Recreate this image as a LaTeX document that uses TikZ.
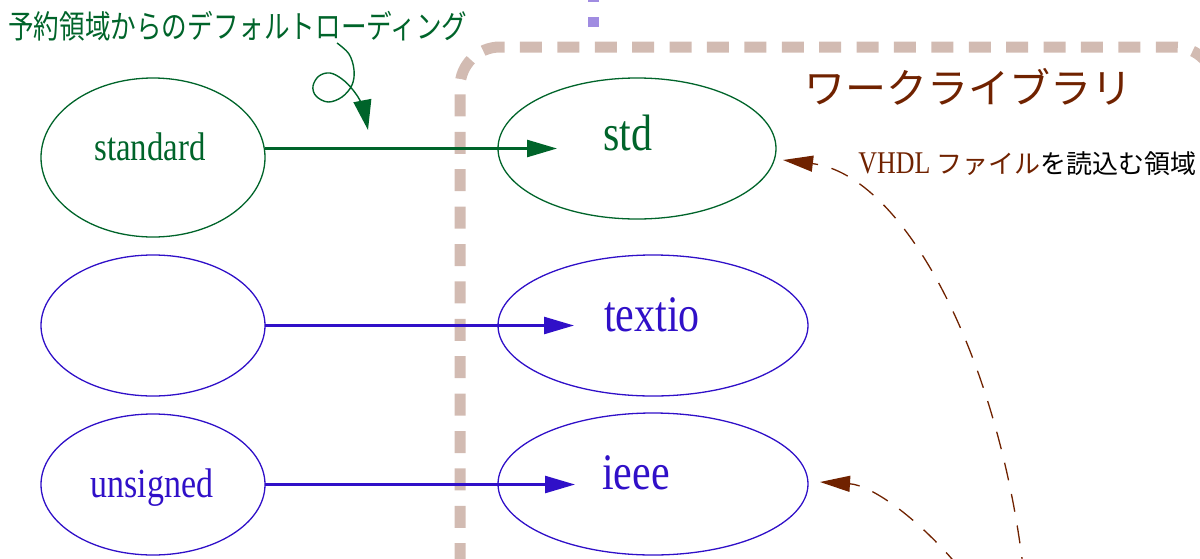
\documentclass[tikz,border=0pt]{standalone}
\usepackage{fontspec}
\setmainfont[FakeStretch=0.82]{Liberation Serif}
\newfontfamily\jp{Noto Sans CJK JP}
\newfontfamily\jpn[FakeStretch=0.8]{Noto Sans CJK JP}
\usetikzlibrary{shapes.geometric,arrows.meta,calc}
\definecolor{dgreen}{RGB}{0,100,42}
\definecolor{dblue}{RGB}{48,16,200}
\definecolor{mybrown}{RGB}{112,34,0}
\definecolor{mytan}{RGB}{210,187,178}
\definecolor{lav}{RGB}{160,140,225}
\begin{document}
\begin{tikzpicture}[x=0.5pt,y=-0.5pt,
  ell/.style={ellipse,draw,line width=0.65pt,inner sep=0pt,outer sep=0pt},
  conn/.style={line width=1.25pt,-{Triangle[length=15pt,width=8.5pt]}},
  lbl/.style={inner sep=0pt,anchor=base},
  dconn/.style={mybrown,line width=0.65pt,dash pattern=on 9pt off 7pt,-{Triangle[length=15pt,width=8pt]}},
  frame/.style={mytan,line width=5.5pt,dash pattern=on 11pt off 7.7pt,rounded corners=20pt}]
\useasboundingbox (0,0) rectangle (1200,558);
\clip (0,0) rectangle (1200,558);
% frame
\draw[frame] (460,640) -- (460,47) -- (1215,47) -- (1215,640);
\draw[lav,line width=5.5pt,dash pattern=on 5pt off 7.5pt] (593.5,27) -- (593.5,-40);
% ellipses
\node[ell,dgreen,minimum width=112pt,minimum height=79.5pt] (e1) at (153,157.5) {};
\node[ell,dblue,minimum width=112pt,minimum height=70.5pt] (e2) at (153,325.5) {};
\node[ell,dblue,minimum width=112pt,minimum height=70.5pt] (e3) at (153,484.5) {};
\node[ell,dgreen,minimum width=139pt,minimum height=70.5pt] (e4) at (637,148.5) {};
\node[ell,dblue,minimum width=155pt,minimum height=70.5pt] (e5) at (653,325.5) {};
\node[ell,dblue,minimum width=155pt,minimum height=71pt] (e6) at (653,484) {};
% labels
\node[lbl,dgreen,font=\fontsize{20}{22}\selectfont] (t1) at (150,160) {standard};
\node[lbl,dblue,font=\fontsize{20.7}{23}\selectfont] (t3) at (152,497) {unsigned};
\node[lbl,dgreen,font=\fontsize{25.6}{28}\selectfont] (t4) at (627.5,150) {std};
\node[lbl,dblue,font=\fontsize{25.6}{28}\selectfont] (t5) at (652,331) {textio};
\node[lbl,dblue,font=\fontsize{25.6}{28}\selectfont] (t6) at (636,489) {ieee};
\node[inner sep=0pt,anchor=base west,dgreen,font=\jpn\fontsize{16}{18}\selectfont] (title) at (8,38) {予約領域からのデフォルトローディング};
\node[inner sep=0pt,anchor=base west,mybrown,font=\jp\fontsize{20.5}{24}\selectfont] (work) at (804,103) {ワークライブラリ};
\node[inner sep=0pt,anchor=base west,font=\fontsize{15.8}{18}\selectfont] (vhdl) at (858,173) {\textcolor{mybrown}{VHDL {\jp\fontsize{13}{16}\selectfont ファイル}}{\jp\fontsize{13}{16}\selectfont を読込む領域}};
% connectors
\draw[conn,dgreen] (e1.east |- e4.west) -- ($(e4.west)+(59,0)$);
\draw[conn,dblue] (e2.east) -- ($(e5.west)+(76,0)$);
\draw[conn,dblue] (e3.east) -- ($(e3.east -| e6.west)+(77,0)$);
\coordinate (s1) at (1024,575);
\coordinate (s2) at (958,566);
\coordinate (p1) at (783,160);
\coordinate (p2) at (820,482);
\draw[dconn] (s1) .. controls (1000,360) and (905,175) .. (p1);
\draw[dconn] (s2) .. controls (915,515) and (870,485) .. (p2);
\coordinate (c0) at (337,43);
\coordinate (c1) at (368,130);
\draw[dgreen,line width=0.7pt,-{Triangle[length=15pt,width=9pt]}] plot[smooth,tension=0.6] coordinates {(c0) (349,54) (354,70) (352,85) (342,97) (328,102) (316,96) (313,86) (319,76) (330,73) (342,79) (353,90) (362,105) (c1)};
\end{tikzpicture}
\end{document}
